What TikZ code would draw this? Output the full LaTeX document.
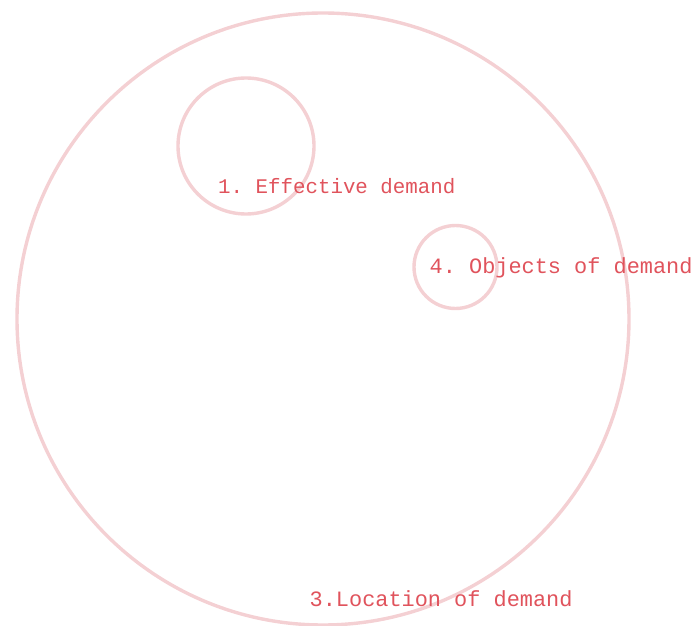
\documentclass[tikz,border=0pt]{standalone}
\usepackage{fontspec}
\setmonofont{Liberation Mono}
\usepackage{xcolor}
\usepackage{tikz}
\definecolor{ringpink}{HTML}{F4D0D3}
\definecolor{labelred}{HTML}{E0535C}
\tikzset{ring/.style={draw=ringpink,line width=3.4pt},
lbl/.style={anchor=base west,inner sep=0pt,text=labelred,font=\fontsize{21.9}{24}\ttfamily}}

\begin{document}
\begin{tikzpicture}[x=1pt,y=-1pt]
\useasboundingbox(0,0)rectangle(697,626);
\draw[ring](323,319)circle(306);
\draw[ring](246,146)circle(68);
\draw[ring](455.5,267)circle(41.5);
\node[lbl,font=\fontsize{20.8}{23}\ttfamily](effective)at(218,193.5){1. Effective demand};
\node[lbl](objects)at(429.5,273){4. Objects of demand};
\node[lbl](location)at(309.5,606){3.Location of demand};
\end{tikzpicture}
\end{document}
